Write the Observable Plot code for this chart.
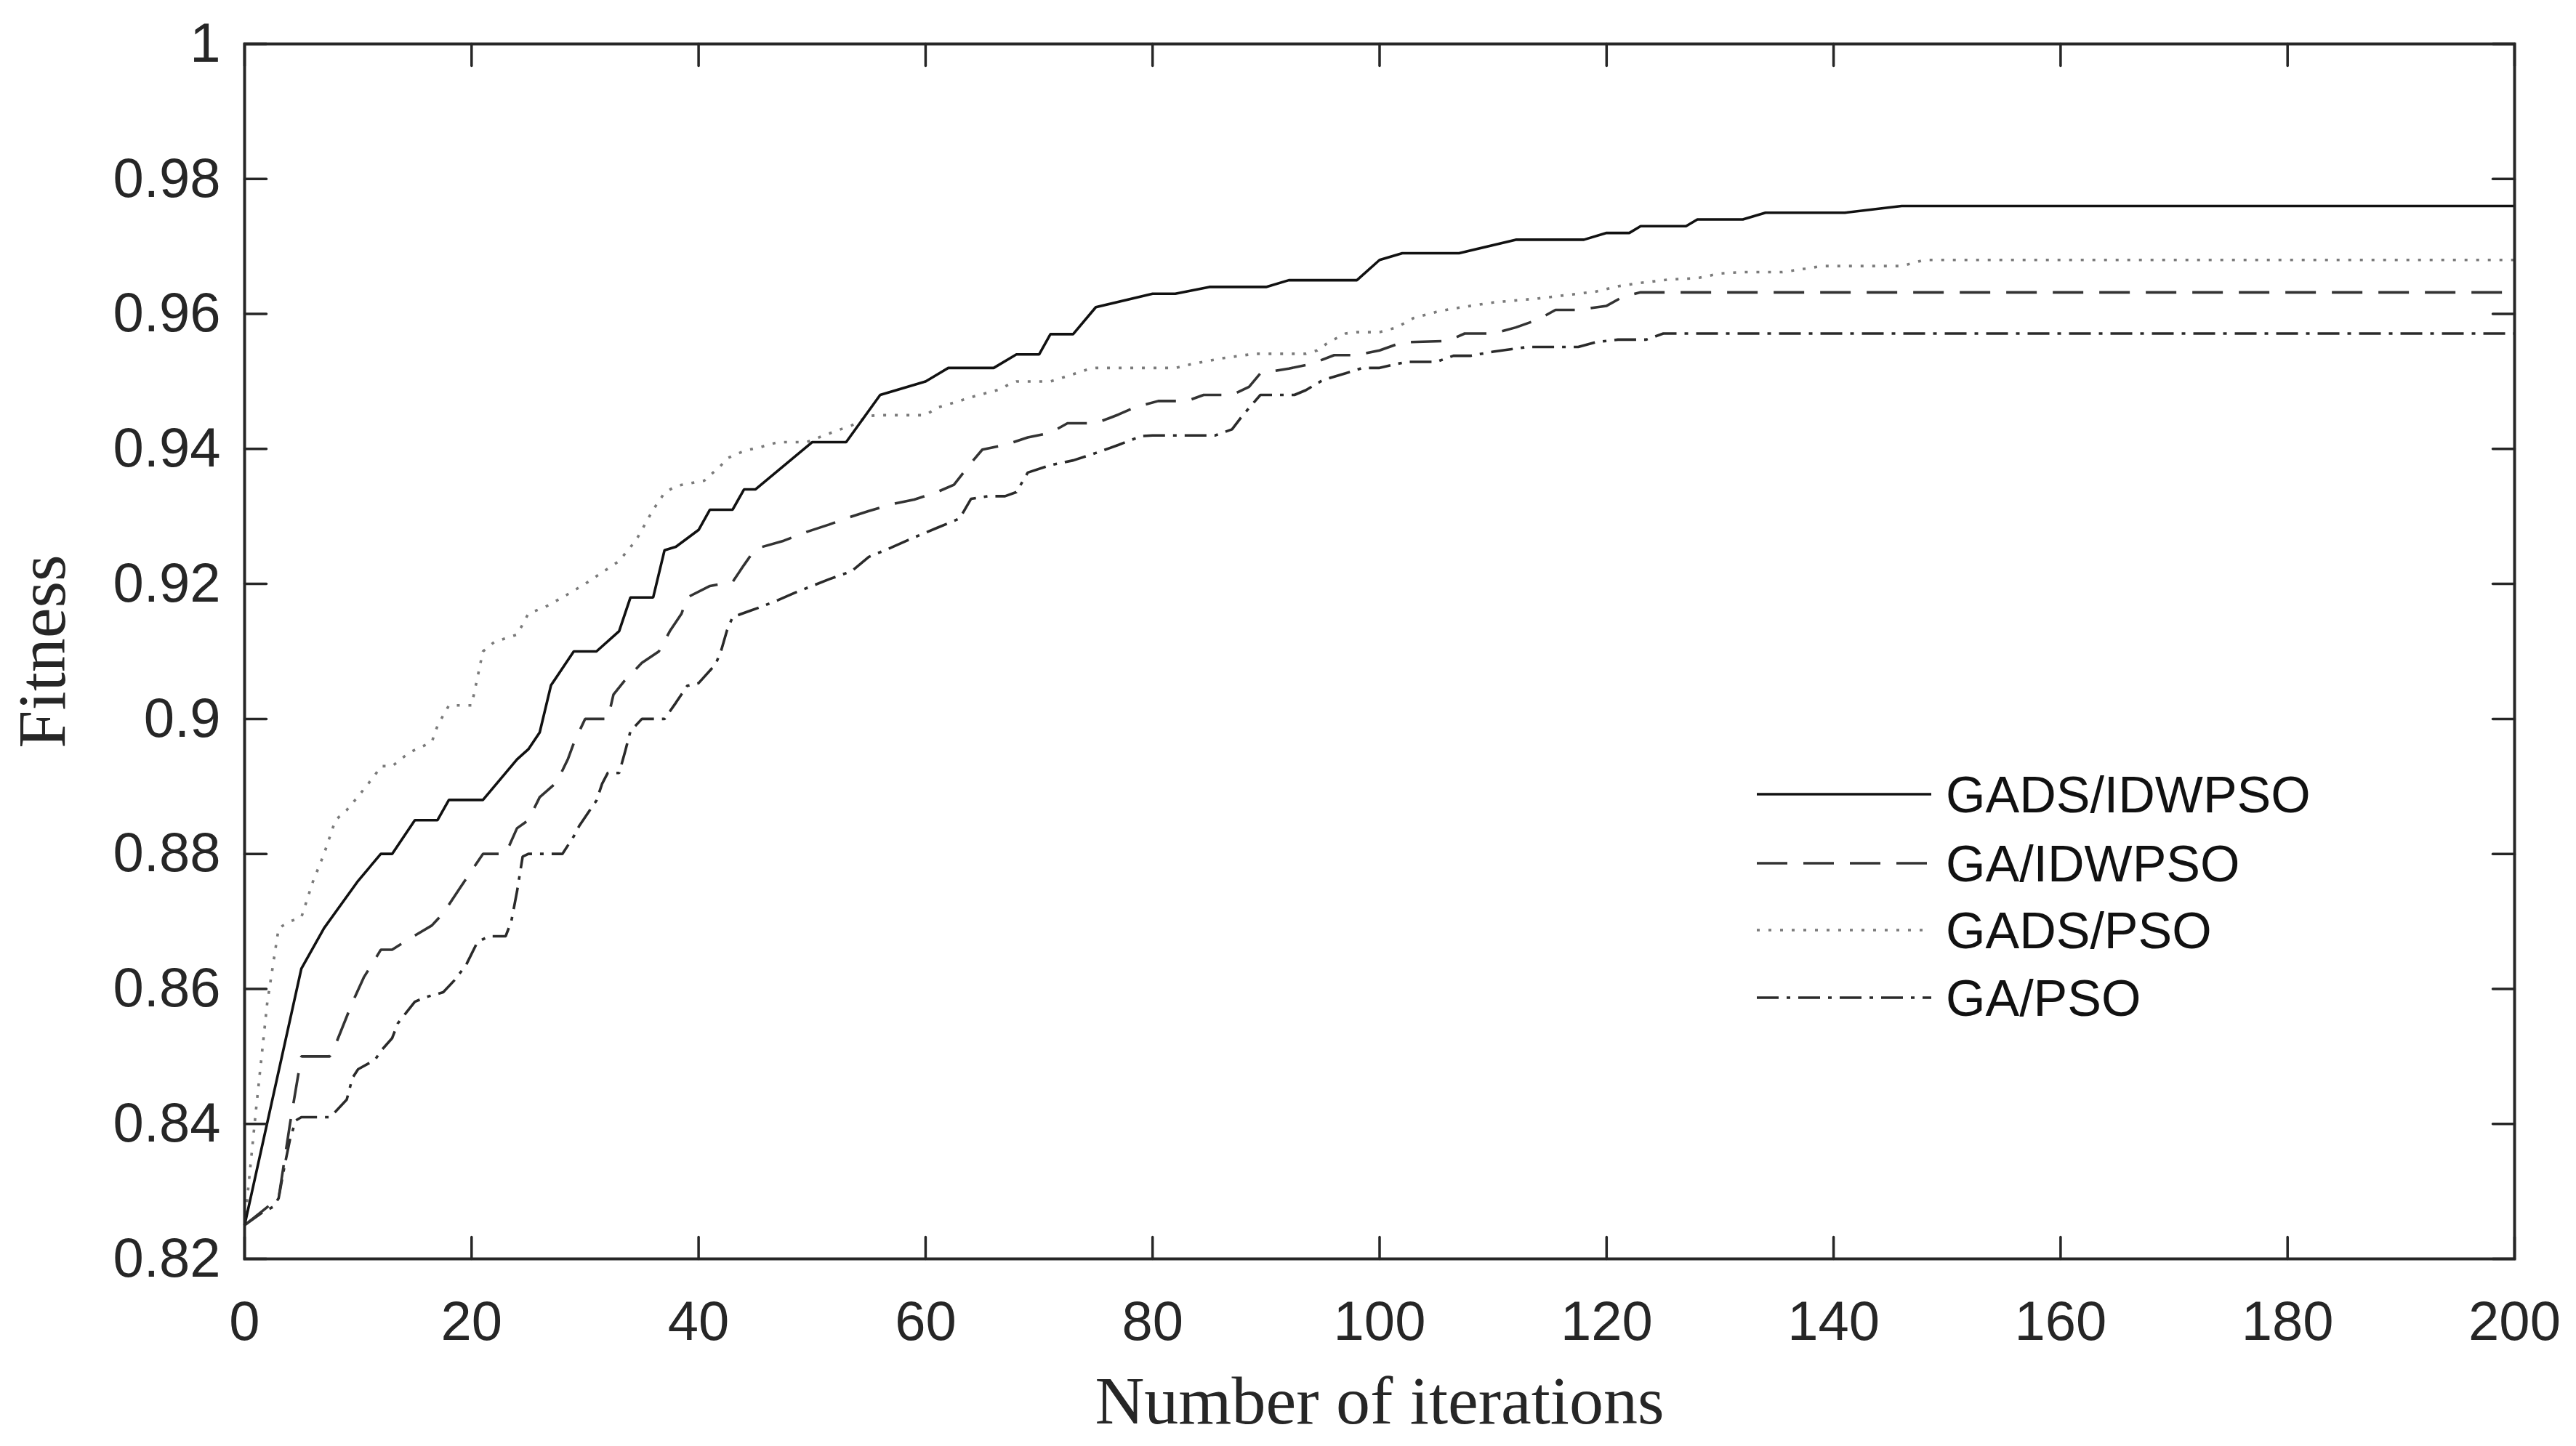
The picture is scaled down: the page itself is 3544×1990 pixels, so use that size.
<!DOCTYPE html>
<html><head><meta charset="utf-8">
<script src="https://cdn.jsdelivr.net/npm/d3@7"></script>
<script src="https://cdn.jsdelivr.net/npm/@observablehq/plot@0.6"></script>
<style>
html,body{margin:0;padding:0;background:#fff;}
#wrap{position:relative;width:3544px;height:1990px;}
#legend{position:absolute;left:0;top:0;}
</style></head><body><div id="wrap"></div>
<script>
const seriesNames = ["GADS/IDWPSO", "GA/IDWPSO", "GADS/PSO", "GA/PSO"];

const x_GADS_IDWPSO = [0,5,7,10,12,13,15,17,18,21,24,25,26,27,29,31,33,34,36,37,38,40,41,43,44,45,50,53,56,58,60,62,66,68,70,71,73,75,80,82,85,90,92,98,100,102,107,112,118,120,122,123,127,128,132,134,141,146,200];
const y_GADS_IDWPSO = [0.825,0.863,0.869,0.876,0.880,0.880,0.885,0.885,0.888,0.888,0.894,0.8955,0.898,0.905,0.910,0.910,0.913,0.918,0.918,0.925,0.9255,0.928,0.931,0.931,0.934,0.934,0.941,0.941,0.948,0.949,0.950,0.952,0.952,0.954,0.954,0.957,0.957,0.961,0.963,0.963,0.964,0.964,0.965,0.965,0.968,0.969,0.969,0.971,0.971,0.972,0.972,0.973,0.973,0.974,0.974,0.975,0.975,0.976,0.976];

const x_GA_IDWPSO = [0,3,4,5,7.5,8,9.5,10.5,11.5,12,13,14.5,16.5,17.5,19,20,21,23,24,25,26,27.5,28.5,29,30,32,32.5,33.5,35,36.5,37.5,38.5,39,41,43,44,45,47.5,49.5,51.5,53.5,55,57,59,61,62.5,64,65,67,69,71,72.5,75,77,78.5,80.5,83,84.5,87,88.5,89.5,92,94,96,98,100,102,106,107.5,110,112,114,115.5,117.5,120,121.5,123,200];
const y_GA_IDWPSO = [0.825,0.829,0.840,0.850,0.850,0.8517,0.858,0.8617,0.8644,0.8658,0.8658,0.8674,0.8694,0.8712,0.875,0.8775,0.880,0.880,0.8838,0.885,0.8884,0.8906,0.8941,0.8964,0.900,0.900,0.9036,0.9057,0.9083,0.910,0.9131,0.9156,0.918,0.9197,0.9203,0.9228,0.9252,0.9264,0.9277,0.9288,0.930,0.9308,0.9318,0.9325,0.9336,0.9347,0.9379,0.9399,0.9406,0.9417,0.9424,0.9438,0.9438,0.9451,0.9462,0.9471,0.9471,0.948,0.948,0.9492,0.9512,0.9519,0.9526,0.9539,0.9539,0.9546,0.9558,0.956,0.9571,0.9571,0.958,0.9592,0.9606,0.9606,0.9612,0.9626,0.9632,0.9632];

const x_GADS_PSO = [0,1,2,3,4,5,6,7,8,9,10,11.5,12,13,14.5,16.5,17,18,20,20.5,21,22,24,24.5,25,26.5,28,30,31.5,33,34.5,35,36,37,38,40.5,42,42.5,44,45.5,47,49.5,52,53.5,55,56,60,61,64.5,66.5,67.5,68,71,72.5,74.5,75,82,83.5,86,89,93.5,94.5,95.5,97,98,100,101.5,103,105,106.5,110,114,116.5,119,121,123,125.5,128,130,132,135.5,137.5,139,146,148,200];
const y_GADS_PSO = [0.825,0.842,0.858,0.869,0.870,0.8706,0.8758,0.880,0.885,0.8865,0.8885,0.8917,0.893,0.893,0.895,0.8966,0.899,0.902,0.902,0.906,0.910,0.9114,0.9125,0.914,0.9156,0.9166,0.918,0.920,0.9217,0.9234,0.9265,0.928,0.931,0.9335,0.9345,0.9353,0.9376,0.9386,0.9397,0.9403,0.941,0.941,0.9426,0.9435,0.9449,0.945,0.945,0.9461,0.9479,0.9488,0.9497,0.950,0.950,0.9508,0.9519,0.952,0.952,0.9526,0.9534,0.9541,0.9541,0.9546,0.9558,0.9571,0.9573,0.9573,0.958,0.9594,0.9603,0.9608,0.9617,0.9623,0.9628,0.9633,0.9641,0.9646,0.9651,0.9653,0.966,0.9662,0.9662,0.9667,0.9671,0.9671,0.968,0.968];

const x_GA_PSO = [0,1.5,2.5,3,3.5,4,4.5,5,7.5,8,9,9.5,10,11.5,12,13,13.5,15,16,17.5,18.5,19.5,20.5,21.5,23,23.5,24,24.5,25,28,29,29.5,31,31.5,32,33,33.5,34,35,37,38,39,40,41.5,42,42.5,43,44.5,45.5,47,48.5,50,51.5,53.5,55,57,59,61,63,64,65.5,67,68,69,71,73,75,77,79,80,85.5,87,88,89.5,92.5,93.5,95,97,98.5,100,101.5,102.5,105,106.5,108,110,113,117.5,119,121,123.5,125,200];
const y_GA_PSO = [0.825,0.8268,0.8277,0.829,0.8336,0.8377,0.8405,0.841,0.841,0.8418,0.8436,0.8468,0.8481,0.8495,0.8508,0.8527,0.8549,0.8581,0.8588,0.8595,0.8613,0.8635,0.8669,0.8678,0.8678,0.870,0.8744,0.8796,0.880,0.880,0.8826,0.8842,0.8879,0.8904,0.892,0.892,0.895,0.8982,0.900,0.900,0.9024,0.9049,0.9053,0.9081,0.9102,0.9131,0.9151,0.916,0.9166,0.9176,0.9187,0.9197,0.9207,0.9219,0.924,0.9254,0.9269,0.9283,0.9297,0.9326,0.933,0.933,0.9336,0.9365,0.9376,0.9383,0.9394,0.9406,0.9419,0.942,0.942,0.9429,0.9451,0.948,0.948,0.9487,0.9502,0.9512,0.952,0.952,0.9526,0.9529,0.9529,0.9538,0.9538,0.9544,0.9551,0.9551,0.9558,0.9562,0.9562,0.9571,0.9571];

const xDomain = [0, 200];
const yDomain = [0.82, 1];
const xTicks = [0,20,40,60,80,100,120,140,160,180,200];
const xTickLabels = ["0","20","40","60","80","100","120","140","160","180","200"];
const yTicks = [0.82,0.84,0.86,0.88,0.90,0.92,0.94,0.96,0.98,1];
const yTickLabels = ["0.82","0.84","0.86","0.88","0.9","0.92","0.94","0.96","0.98","1"];
const xLabel = "Number of iterations";
const yLabel = "Fitness";

const styles = [
  {stroke: "#111111", width: 3.6, dash: null},
  {stroke: "#333333", width: 3.6, dash: "42,22"},
  {stroke: "#7a7a7a", width: 3.6, dash: "4,12"},
  {stroke: "#2a2a2a", width: 3.6, dash: "30,11,5,11"}
];

const zip = (xs, ys) => xs.map((x, i) => ({x, y: ys[i]}));
const seriesData = [
  zip(x_GADS_IDWPSO, y_GADS_IDWPSO),
  zip(x_GA_IDWPSO, y_GA_IDWPSO),
  zip(x_GADS_PSO, y_GADS_PSO),
  zip(x_GA_PSO, y_GA_PSO)
];

const axisColor = "#262626";
const tickShape = {draw(ctx, l) { ctx.moveTo(0, 0); ctx.lineTo(0, -l); }};
const tickLen = 30;

const lineMarks = seriesData.map((d, i) => Plot.line(d, {
  x: "x", y: "y", stroke: styles[i].stroke, strokeWidth: styles[i].width,
  strokeDasharray: styles[i].dash, strokeLinecap: "butt", strokeLinejoin: "miter"
}));

const chart = Plot.plot({
  width: 3544,
  height: 1990,
  marginLeft: 336,
  marginRight: 85,
  marginTop: 60,
  marginBottom: 258,
  style: {fontFamily: "'Liberation Sans', Arial, sans-serif", color: axisColor, background: "#fff"},
  x: {domain: xDomain, axis: null},
  y: {domain: yDomain, axis: null},
  marks: [
    lineMarks[3], lineMarks[1], lineMarks[2], lineMarks[0],
    Plot.frame({stroke: axisColor, strokeWidth: 4}),
    Plot.vector(xTicks, {x: d => d, y: () => yDomain[0], length: tickLen, rotate: 0, anchor: "start", shape: tickShape, stroke: axisColor, strokeWidth: 3.5}),
    Plot.vector(xTicks, {x: d => d, y: () => yDomain[1], length: tickLen, rotate: 180, anchor: "start", shape: tickShape, stroke: axisColor, strokeWidth: 3.5}),
    Plot.vector(yTicks, {x: () => xDomain[0], y: d => d, length: tickLen, rotate: 90, anchor: "start", shape: tickShape, stroke: axisColor, strokeWidth: 3.5}),
    Plot.vector(yTicks, {x: () => xDomain[1], y: d => d, length: tickLen, rotate: -90, anchor: "start", shape: tickShape, stroke: axisColor, strokeWidth: 3.5}),
    Plot.axisX(xTicks, {anchor: "bottom", tickSize: 0, tickPadding: 58, fontSize: 76, label: null,
      tickFormat: d => xTickLabels[xTicks.indexOf(d)]}),
    Plot.axisY(yTicks, {anchor: "left", tickSize: 0, tickPadding: 33, fontSize: 76, label: null,
      tickFormat: d => yTickLabels[yTicks.indexOf(d)]}),
    Plot.text([xLabel], {text: d => d, frameAnchor: "bottom", dy: 160, textAnchor: "middle", lineAnchor: "top",
      fontFamily: "'Liberation Serif', 'Times New Roman', serif", fontSize: 94, fill: axisColor}),
    Plot.text([yLabel], {text: d => d, frameAnchor: "left", dx: -248, rotate: -90, textAnchor: "middle", lineAnchor: "bottom",
      fontFamily: "'Liberation Serif', 'Times New Roman', serif", fontSize: 94, fill: axisColor})
  ]
});

const wrap = document.getElementById("wrap");
wrap.appendChild(chart);

const legendRows = [1093, 1188, 1280, 1373];
const leg = d3.select(wrap).append("svg")
  .attr("id", "legend").attr("width", 3544).attr("height", 1990);
seriesNames.forEach((name, i) => {
  const g = leg.append("g");
  g.append("line")
    .attr("x1", 2417).attr("x2", 2657)
    .attr("y1", legendRows[i]).attr("y2", legendRows[i])
    .attr("stroke", styles[i].stroke).attr("stroke-width", styles[i].width)
    .attr("stroke-dasharray", styles[i].dash);
  g.append("text")
    .attr("x", 2677).attr("y", legendRows[i])
    .attr("dy", "0.35em")
    .attr("font-family", "'Liberation Sans', Arial, sans-serif")
    .attr("font-size", 70)
    .attr("fill", "#111")
    .text(name);
});
</script>
</body></html>
